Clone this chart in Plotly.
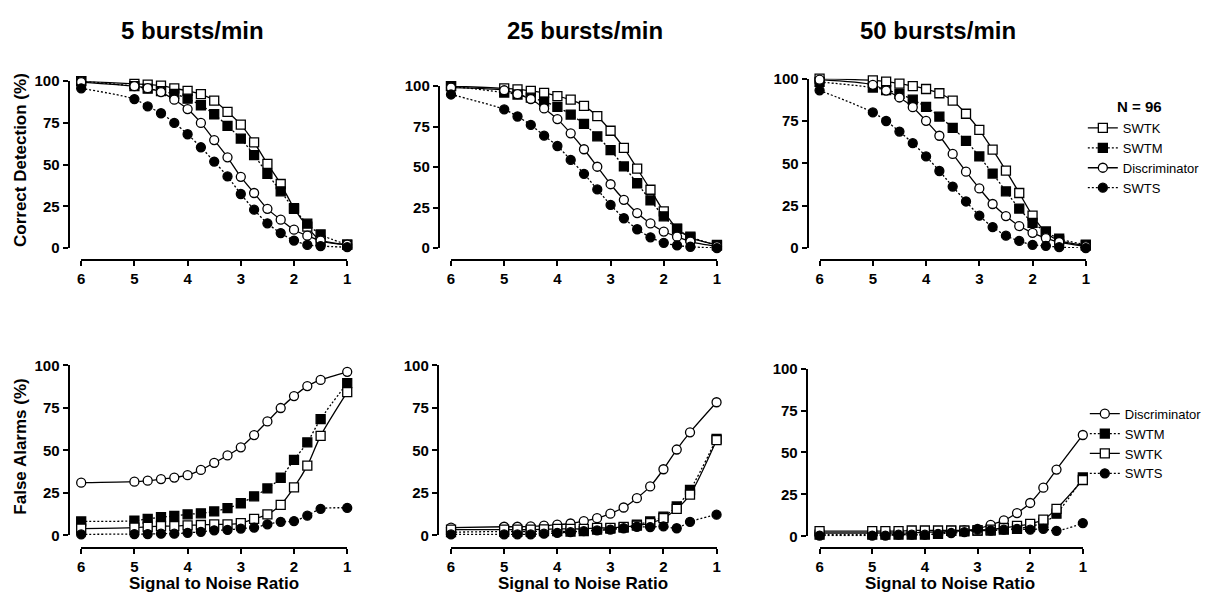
import plotly.graph_objects as go

# Signal-to-noise ratios tested (x axis, drawn high -> low)
snr = [6, 5, 4.75, 4.5, 4.25, 4, 3.75, 3.5, 3.25, 3, 2.75, 2.5, 2.25, 2, 1.75, 1.5, 1]

rates = ["5 bursts/min", "25 bursts/min", "50 bursts/min"]

# Correct detection (%) per detector, one list per burst rate
cd_swtk_5 = [100, 98.4, 98, 97.3, 95.7, 94.2, 92.2, 88.3, 81.6, 74, 63.3, 50.5, 38.4, 23.9, 12.8, 4.5, 2]
cd_swtm_5 = [100, 97, 95.5, 94, 92.4, 89.5, 85.6, 80.2, 73.2, 65.6, 55.7, 44.5, 34, 23.5, 14.6, 8.2, 2]
cd_disc_5 = [99.5, 97, 95.8, 93.5, 88.9, 83.3, 75, 64.7, 54.4, 42.7, 33, 23.5, 17, 11, 7.4, 4.5, 2]
cd_swts_5 = [95.7, 89.3, 84.9, 80.8, 75, 68.2, 60.4, 51.8, 42.9, 32.4, 23, 14.8, 9, 4.5, 1.9, 1.2, 0.5]

cd_swtk_25 = [100, 98.6, 98, 97, 95.8, 93.8, 91.6, 87.8, 81.4, 72.4, 61.8, 49, 36, 22.6, 12, 6.4, 2]
cd_swtm_25 = [100, 96, 94.8, 92.8, 90.4, 87.2, 82.4, 76.6, 69, 60.4, 50.4, 40, 29.4, 19.6, 11.8, 7, 1.5]
cd_disc_25 = [99, 97.4, 95, 92, 86.2, 79.6, 70.8, 61, 50.2, 39.4, 29.8, 21.6, 15.2, 10.2, 7, 4, 1]
cd_swts_25 = [94.8, 85.6, 81.2, 76, 69.4, 63, 54.4, 45.8, 36.2, 26.6, 18.4, 11.6, 6.6, 3.2, 1.6, 0.8, 0]

cd_swtk_50 = [100, 99, 98.3, 97.1, 95.6, 93.9, 91.4, 87, 79.3, 69.8, 58.1, 45.7, 32.5, 19.1, 9.2, 4.4, 1.5]
cd_swtm_50 = [98.1, 94.8, 93.3, 91, 87.6, 83.4, 77.6, 70.9, 63.3, 54.1, 44, 33.5, 23.3, 14.9, 9.8, 5.5, 2]
cd_disc_50 = [99.4, 96.4, 93, 88.9, 83.2, 75.1, 66.3, 55.6, 45.1, 35.2, 26, 18.9, 13, 9, 5.9, 3.5, 1]
cd_swts_50 = [93.1, 80.1, 75, 68.8, 61.9, 54.1, 45.5, 36.3, 27.5, 19.1, 12.4, 7.3, 4.2, 1.9, 1.3, 0.5, 0]

# False alarms (%) per detector, one list per burst rate
fa_disc_5 = [31, 31.6, 32.2, 33.1, 34, 35.4, 38.5, 42.7, 47, 51.8, 59, 67, 74.9, 81.9, 87.8, 91.4, 96.2]
fa_swtm_5 = [8.2, 8.6, 9.7, 10.7, 11.4, 12.4, 13, 14.1, 16, 18.9, 23, 27.6, 33.9, 44.4, 54.7, 68.4, 89.5]
fa_swtk_5 = [4, 4.6, 5.1, 5.5, 5.5, 5.9, 6.1, 6.5, 6.5, 7.2, 9.7, 12.4, 17.9, 28.2, 41, 58.5, 84.2]
fa_swts_5 = [0.6, 0.8, 0.8, 1, 1, 1.5, 2.1, 3, 3.2, 4, 4.6, 6.5, 8, 8.4, 11.6, 15.6, 16.2]

fa_disc_25 = [4.6, 5.1, 5.1, 5.3, 5.7, 6.3, 7, 8.4, 10.1, 12.8, 16.4, 21.9, 28.8, 38.9, 50.5, 60.6, 78.3]
fa_swtm_25 = [1.9, 2.3, 2.3, 2.3, 2.5, 2.5, 2.3, 2.5, 3.4, 4, 4.6, 6.3, 8.2, 11, 17, 26.7, 56.8]
fa_swtk_25 = [3.4, 3.4, 3.4, 3.4, 3.5, 3.8, 3.8, 3.8, 4.4, 4.4, 5, 5.7, 7.2, 10.1, 15.6, 24, 56]
fa_swts_25 = [0.6, 0.6, 0.6, 0.6, 1, 1.5, 1.9, 2.5, 2.9, 3.4, 4.2, 5.1, 4.9, 5.3, 4.2, 8, 12.2]

fa_disc_50 = [2, 2, 2, 2, 2, 2.5, 2.5, 3, 3.5, 4.4, 6.9, 9.5, 13.9, 19.9, 29, 39.8, 60.4]
fa_swtm_50 = [1, 1, 1, 1, 1, 1, 1.5, 3.3, 3, 3.5, 3.5, 4, 4.5, 6, 8, 13.5, 35.1]
fa_swtk_50 = [3.1, 3.1, 3.1, 3.1, 3.5, 3.5, 3.5, 3.5, 3.5, 3.5, 4, 5, 6.2, 7.5, 10, 16.4, 33.6]
fa_swts_50 = [0.5, 0.5, 0.5, 1, 1, 1, 1.5, 2, 2.5, 4, 3.5, 4, 4.5, 4, 4.5, 3.3, 7.9]

detection = [
    {"SWTK": cd_swtk_5, "SWTM": cd_swtm_5, "Discriminator": cd_disc_5, "SWTS": cd_swts_5},
    {"SWTK": cd_swtk_25, "SWTM": cd_swtm_25, "Discriminator": cd_disc_25, "SWTS": cd_swts_25},
    {"SWTK": cd_swtk_50, "SWTM": cd_swtm_50, "Discriminator": cd_disc_50, "SWTS": cd_swts_50},
]
false_alarms = [
    {"Discriminator": fa_disc_5, "SWTM": fa_swtm_5, "SWTK": fa_swtk_5, "SWTS": fa_swts_5},
    {"Discriminator": fa_disc_25, "SWTM": fa_swtm_25, "SWTK": fa_swtk_25, "SWTS": fa_swts_25},
    {"Discriminator": fa_disc_50, "SWTM": fa_swtm_50, "SWTK": fa_swtk_50, "SWTS": fa_swts_50},
]

W, H = 1211, 602
FONT = "Liberation Sans, Arial, Helvetica, sans-serif"
DOTTED = "2px,2px"

STYLE = {
    "SWTK": dict(symbol="square", fill="white", dash="solid", size=9),
    "SWTM": dict(symbol="square", fill="black", dash=DOTTED, size=9),
    "Discriminator": dict(symbol="circle", fill="white", dash="solid", size=9),
    "SWTS": dict(symbol="circle", fill="black", dash=DOTTED, size=9),
}


def px(x):
    return x / W


def py(y):
    return 1 - y / H


# Panel geometry in pixels: x of SNR 6 and 1, y of 0% and 100%,
# y-axis line x, x-axis line y
panels_top = [
    (77.7, 345.5, 246.0, 74.3, 65.0, 258.3),
    (450.0, 717.7, 246.0, 79.3, 437.7, 258.3),
    (821.0, 1089.0, 246.0, 71.7, 809.0, 258.3),
]
panels_bot = [
    (77.7, 345.5, 541.7, 366.7, 65.0, 554.3),
    (450.0, 717.3, 541.7, 366.7, 436.7, 554.3),
    (821.0, 1086.0, 542.7, 370.0, 808.0, 555.0),
]

fig = go.Figure()
layout = {}
tickfont = dict(family=FONT, size=15, color="black", weight="bold")

panel_specs = []
for i in range(3):
    panel_specs.append((panels_top[i], detection[i], "legend" if i == 2 else None))
for i in range(3):
    panel_specs.append((panels_bot[i], false_alarms[i], "legend2" if i == 2 else None))

for k, (geom, series, leg) in enumerate(panel_specs):
    n = k + 1
    xname = "x" if n == 1 else f"x{n}"
    yname = "y" if n == 1 else f"y{n}"
    x6, x1, y0, y100, yax_x, xax_y = geom
    common = dict(
        showline=True, linecolor="black", linewidth=2,
        ticks="outside", ticklen=5, tickwidth=2, tickcolor="black",
        showgrid=False, zeroline=False, tickfont=tickfont,
        anchor="free", fixedrange=True,
    )
    layout["xaxis" if n == 1 else f"xaxis{n}"] = dict(
        domain=[px(x6), px(x1)], range=[6, 1], tickvals=[6, 5, 4, 3, 2, 1],
        position=py(xax_y), **common,
    )
    layout["yaxis" if n == 1 else f"yaxis{n}"] = dict(
        domain=[py(y0), py(y100)], range=[0, 100], tickvals=[0, 25, 50, 75, 100],
        position=px(yax_x), **common,
    )
    for name, vals in series.items():
        st = STYLE[name]
        fig.add_trace(go.Scatter(
            x=snr, y=vals, name=name, mode="lines+markers",
            xaxis=xname, yaxis=yname, cliponaxis=False,
            line=dict(color="black", width=1.3, dash=st["dash"], shape="spline", smoothing=0.8),
            marker=dict(symbol=st["symbol"], size=st["size"], color=st["fill"],
                        line=dict(color="black", width=1.3)),
            showlegend=leg is not None,
            legend=leg if leg else "legend",
        ))

annotations = []
title_font = dict(family=FONT, size=24, color="black", weight="bold")
for txt, cx in zip(rates, [189.5, 585.0, 940.0]):
    annotations.append(dict(text=txt, x=px(cx), y=py(21.7), xref="paper", yref="paper",
                            showarrow=False, xanchor="center", yanchor="middle", font=title_font))

label_font = dict(family=FONT, size=17, color="black", weight="bold")
annotations.append(dict(text="Correct Detection (%)", x=px(16.5), y=py(155), xref="paper", yref="paper",
                        showarrow=False, textangle=-90, xanchor="center", yanchor="middle", font=label_font))
annotations.append(dict(text="False Alarms (%)", x=px(16.5), y=py(450), xref="paper", yref="paper",
                        showarrow=False, textangle=-90, xanchor="center", yanchor="middle", font=label_font))
for cx in [211.0, 583.0, 952.0]:
    annotations.append(dict(text="Signal to Noise Ratio", x=px(cx), y=py(591), xref="paper", yref="paper",
                            showarrow=False, xanchor="center", yanchor="middle", font=label_font))
annotations.append(dict(text="N = 96", x=px(1143), y=py(100), xref="paper", yref="paper",
                        showarrow=False, xanchor="center", yanchor="middle",
                        font=dict(family=FONT, size=15, color="black", weight="bold")))

legend_common = dict(
    xanchor="left", yanchor="top", bgcolor="rgba(0,0,0,0)", borderwidth=0,
    font=dict(family=FONT, size=13, color="black"), itemwidth=30,
    tracegroupgap=0, traceorder="normal",
)

fig.update_layout(
    width=W, height=H,
    margin=dict(l=0, r=0, t=0, b=0),
    paper_bgcolor="white", plot_bgcolor="white",
    font=dict(family=FONT, color="black"),
    annotations=annotations,
    legend=dict(x=px(1086), y=py(107), **legend_common),
    legend2=dict(x=px(1088), y=py(401), **legend_common),
    **layout,
)

fig.write_html("out.html")
